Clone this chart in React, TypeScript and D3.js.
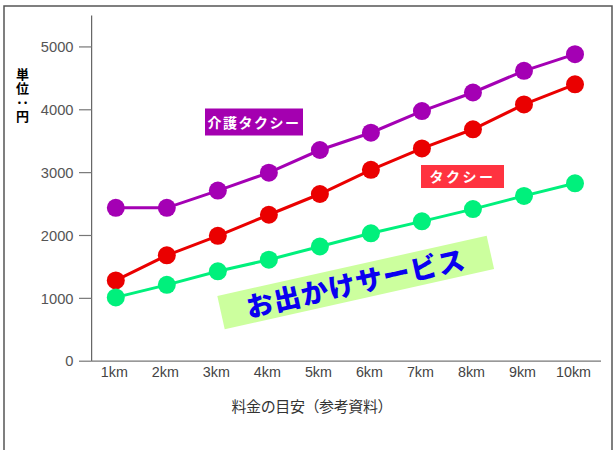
import React from 'react';
import * as d3 from 'd3';

const categories = ['1km', '2km', '3km', '4km', '5km', '6km', '7km', '8km', '9km', '10km'];
const kaigoTaxi = [2440, 2440, 2715, 3000, 3360, 3635, 3980, 4275, 4620, 4885];
const taxi = [1285, 1685, 1995, 2330, 2660, 3045, 3385, 3690, 4085, 4405];
const odekake = [1015, 1215, 1430, 1615, 1825, 2035, 2225, 2420, 2630, 2830];
const yTicks = [0, 1000, 2000, 3000, 4000, 5000];

const seriesList = [
  { name: '介護タクシー', values: kaigoTaxi, color: '#a400b4' },
  { name: 'タクシー', values: taxi, color: '#ea0000' },
  { name: 'お出かけサービス', values: odekake, color: '#00f07c' },
];

const W = 616;
const H = 450;
const axisX = 91.7;
const axisRight = 601;
const y0 = 361.2;

const numFont = '"Liberation Sans", Arial, sans-serif';
const jpFont = '"Noto Sans CJK JP", sans-serif';

export default function App() {
  const x = d3.scalePoint<string>().domain(categories).range([115.8, 575]);
  const y = d3.scaleLinear().domain([0, 5500]).range([y0, 15.5]);

  const line = d3
    .line<number>()
    .x((_, i) => x(categories[i]) as number)
    .y((d) => y(d));

  return (
    <svg
      width={W}
      height={H}
      style={{ position: 'absolute', left: 0, top: 0, background: '#fff' }}
    >
      <rect x={4} y={6} width={608} height={460} fill="#fff" stroke="#555" strokeWidth={1.5} />

      {/* y axis */}
      <line x1={axisX} x2={axisX} y1={y(5500)} y2={y0} stroke="#444" strokeWidth={1} />
      {yTicks.map((t) => (
        <g key={t}>
          <line x1={79} x2={axisX} y1={y(t)} y2={y(t)} stroke="#777" strokeWidth={1.2} />
          <text
            x={73.5}
            y={y(t)}
            dy="0.36em"
            textAnchor="end"
            fontFamily={numFont}
            fontSize={14.7}
            fill="#555"
          >
            {t}
          </text>
        </g>
      ))}
      {/* x axis */}
      <line x1={axisX} x2={axisRight} y1={y0} y2={y0} stroke="#777" strokeWidth={1.2} />
      {categories.map((c) => (
        <text
          key={c}
          x={(x(c) as number) - 1.5}
          y={376.5}
          textAnchor="middle"
          fontFamily={numFont}
          fontSize={14.3}
          fill="#444"
        >
          {c}
        </text>
      ))}
      <text
        x={312}
        y={412}
        textAnchor="middle"
        fontFamily={jpFont}
        fontSize={15}
        textLength={161}
        lengthAdjust="spacing"
        fill="#333"
      >
        料金の目安（参考資料）
      </text>

      {/* y label (vertical) */}
      <text
        x={22.5}
        y={67.5}
        style={{ writingMode: 'vertical-rl' }}
        fontFamily={jpFont}
        fontWeight="bold"
        fontSize={13}
        letterSpacing={1}
        fill="#000"
      >
        単位：円
      </text>

      {/* series */}
      {seriesList.map((s) => (
        <g key={s.name}>
          <path d={line(s.values) || ''} fill="none" stroke={s.color} strokeWidth={3} />
          {s.values.map((v, i) => (
            <circle key={i} cx={x(categories[i]) as number} cy={y(v)} r={9} fill={s.color} />
          ))}
        </g>
      ))}

      {/* labels */}
      <rect x={205} y={108.5} width={98} height={27} fill="#a400b0" />
      <text
        x={254}
        y={122.5}
        dy="0.36em"
        textAnchor="middle"
        fontFamily={jpFont}
        fontWeight="bold"
        fontSize={14}
        letterSpacing={1.5}
        fill="#fff"
      >
        介護タクシー
      </text>

      <rect x={421} y={165} width={83} height={23} fill="#ff3340" />
      <text
        x={462.5}
        y={176.5}
        dy="0.36em"
        textAnchor="middle"
        fontFamily={jpFont}
        fontWeight="bold"
        fontSize={14}
        letterSpacing={2.5}
        fill="#fff"
      >
        タクシー
      </text>

      <g transform="translate(355.7,282.5) rotate(-12.6)">
        <rect x={-138} y={-17} width={276} height={34} fill="#ccff9e" />
        <text
          x={0}
          y={1}
          dy="0.36em"
          textAnchor="middle"
          fontFamily={jpFont}
          fontWeight="900"
          fontSize={27}
          letterSpacing={1}
          fill="#0a00f0"
        >
          お出かけサービス
        </text>
      </g>
    </svg>
  );
}
